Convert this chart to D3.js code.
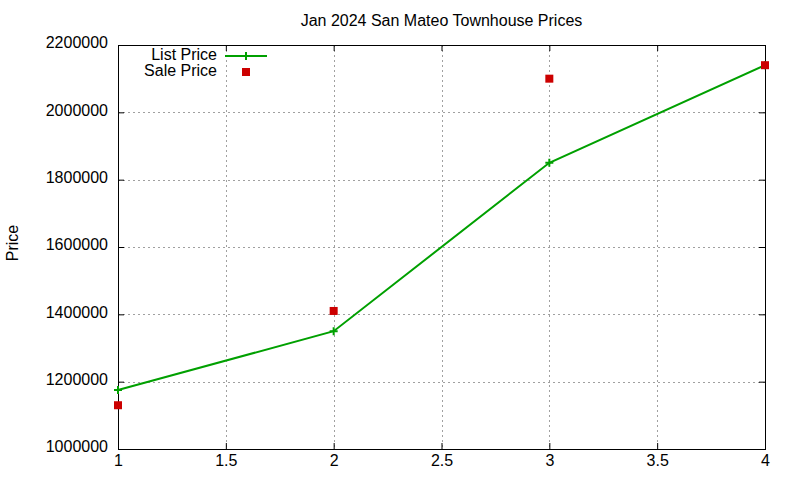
<!DOCTYPE html>
<html>
<head>
<meta charset="utf-8">
<script src="https://cdn.jsdelivr.net/npm/d3@7"></script>
<style>
  body { margin: 0; background: #fff; }
  text { font-family: "Liberation Sans", Arial, sans-serif; }
</style>
</head>
<body>
<svg id="chart" width="800" height="480"></svg>
<script>
(function() {

// data
const xValues = [1, 2, 3, 4];
const listPrice = [1175000, 1350000, 1850000, 2140000];
const salePrice = [1130000, 1410000, 2100000, 2140000];
const xTicks = [1, 1.5, 2, 2.5, 3, 3.5, 4];
const yTicks = [1000000, 1200000, 1400000, 1600000, 1800000, 2000000, 2200000];

const green = "#00a000";
const red = "#cc0000";
const fontSize = 16;

const svg = d3.select("#chart");
const margin = {left: 118, right: 35, top: 45, bottom: 31};
const width = 800, height = 480;

const x = d3.scaleLinear().domain([1, 4]).range([margin.left, width - margin.right]);
const y = d3.scaleLinear().domain([1000000, 2200000]).range([height - margin.bottom, margin.top]);

svg.append("rect").attr("width", width).attr("height", height).attr("fill", "#fff");

// grid
const grid = svg.append("g").attr("stroke", "#a0a0a0").attr("stroke-width", 1).attr("stroke-dasharray", "2,3");
grid.selectAll(".gx").data(xTicks.slice(1, -1)).join("line")
    .attr("x1", d => Math.round(x(d)) + 0.5).attr("x2", d => Math.round(x(d)) + 0.5)
    .attr("y1", y.range()[1]).attr("y2", y.range()[0]);
grid.selectAll(".gy").data(yTicks.slice(1, -1)).join("line")
    .attr("y1", d => Math.round(y(d)) + 0.5).attr("y2", d => Math.round(y(d)) + 0.5)
    .attr("x1", x.range()[0]).attr("x2", x.range()[1]);

// axes (ticks point inward, mirrored like gnuplot)
const tickLen = 6;
const xAxis = svg.append("g").attr("transform", `translate(0,${y.range()[0]})`)
    .call(d3.axisBottom(x).tickValues(xTicks).tickSizeInner(-tickLen).tickSizeOuter(0).tickPadding(6).tickFormat(d3.format("")));
const xAxisTop = svg.append("g").attr("transform", `translate(0,${y.range()[1]})`)
    .call(d3.axisTop(x).tickValues(xTicks).tickSizeInner(-tickLen).tickSizeOuter(0).tickFormat(""));
const yAxis = svg.append("g").attr("transform", `translate(${x.range()[0]},0)`)
    .call(d3.axisLeft(y).tickValues(yTicks).tickSizeInner(-tickLen).tickSizeOuter(0).tickPadding(10).tickFormat(d3.format("d")));
const yAxisRight = svg.append("g").attr("transform", `translate(${x.range()[1]},0)`)
    .call(d3.axisRight(y).tickValues(yTicks).tickSizeInner(-tickLen).tickSizeOuter(0).tickFormat(""));

[xAxis, xAxisTop, yAxis, yAxisRight].forEach(a => {
    a.select(".domain").remove();
    a.selectAll("line").attr("stroke", "#000");
    a.selectAll("text").attr("font-size", fontSize).attr("fill", "#000")
        .attr("font-family", "'Liberation Sans', Arial, sans-serif");
});
yAxis.selectAll("text").attr("dy", "0.18em");

// border
svg.append("rect")
    .attr("x", x.range()[0] + 0.5).attr("y", y.range()[1] + 0.5)
    .attr("width", x.range()[1] - x.range()[0]).attr("height", y.range()[0] - y.range()[1])
    .attr("fill", "none").attr("stroke", "#000").attr("stroke-width", 1);

// List Price line
const listData = xValues.map((d, i) => ({x: d, y: listPrice[i]}));
svg.append("path").datum(listData)
    .attr("fill", "none").attr("stroke", green).attr("stroke-width", 2)
    .attr("d", d3.line().x(d => x(d.x)).y(d => y(d.y)));

function plus(g, cx, cy) {
    g.append("path")
        .attr("d", `M${cx - 4},${cy}H${cx + 4}M${cx},${cy - 4}V${cy + 4}`)
        .attr("stroke", green).attr("stroke-width", 2);
}
listData.forEach(d => plus(svg, x(d.x), y(d.y)));

// Sale Price points
const saleData = xValues.map((d, i) => ({x: d, y: salePrice[i]}));
svg.selectAll(".sale").data(saleData).join("rect")
    .attr("x", d => x(d.x) - 4).attr("y", d => y(d.y) - 4)
    .attr("width", 8).attr("height", 8).attr("fill", red);

// legend
const legend = svg.append("g");
legend.append("text").attr("x", 217).attr("y", 60).attr("text-anchor", "end")
    .attr("font-size", fontSize).text("List Price");
legend.append("line").attr("x1", 225).attr("x2", 267).attr("y1", 56).attr("y2", 56)
    .attr("stroke", green).attr("stroke-width", 2);
plus(legend, 246, 56);
legend.append("text").attr("x", 217).attr("y", 76).attr("text-anchor", "end")
    .attr("font-size", fontSize).text("Sale Price");
legend.append("rect").attr("x", 242).attr("y", 68).attr("width", 8).attr("height", 8).attr("fill", red);

// title and y label
svg.append("text").attr("x", (x.range()[0] + x.range()[1]) / 2).attr("y", 26)
    .attr("text-anchor", "middle").attr("font-size", fontSize).text("Jan 2024 San Mateo Townhouse Prices");
svg.append("text").attr("transform", "translate(18,243) rotate(-90)")
    .attr("text-anchor", "middle").attr("font-size", fontSize).text("Price");

})();
</script>
</body>
</html>
